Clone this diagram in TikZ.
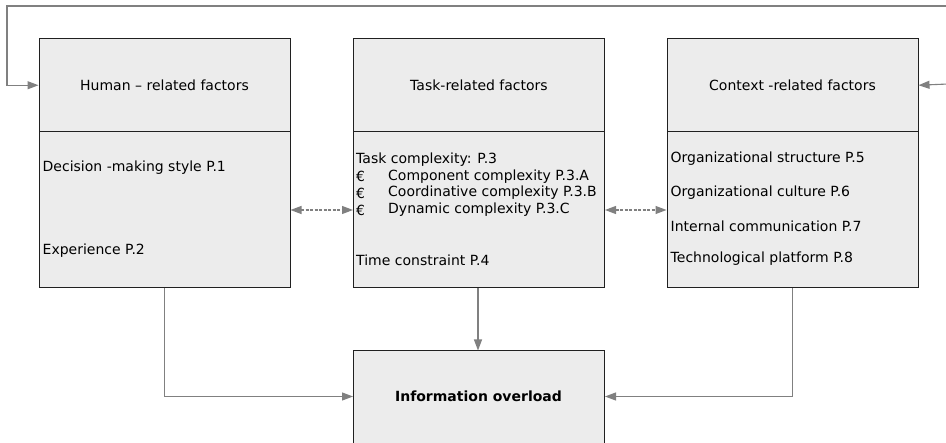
\documentclass[tikz,border=0pt]{standalone}
\usepackage{fontspec}
\setmainfont{DejaVu Sans}
\usetikzlibrary{arrows.meta}
\definecolor{boxfill}{HTML}{ECECEC}
\definecolor{boxline}{HTML}{202020}
\definecolor{wire}{HTML}{808080}
\begin{document}
\begin{tikzpicture}[x=1pt,y=-1pt,
  box/.style={draw=boxline,fill=boxfill,line width=1pt,inner sep=0pt,
    minimum width=251pt,anchor=north west},
  head/.style={box,minimum height=93.5pt},
  body/.style={box,minimum height=156pt},
  item/.style={anchor=west,inner sep=0pt,font=\fontsize{14}{16}\selectfont},
  title/.style={inner sep=0pt,font=\fontsize{14}{16}\selectfont},
  link/.style={draw=wire,line width=1.1pt,-{Triangle[length=11pt,width=8pt]},color=wire},
  duplex/.style={link,dashed,dash pattern=on 3pt off 1.5pt,
    {Triangle[length=11pt,width=8pt]}-{Triangle[length=11pt,width=8pt]}},
]
\clip (0,0) rectangle (946,443);
\fill[white] (0,0) rectangle (946,443);

% three factor groups: heading panel above a content panel
\node[head] (humH) at (38.5,38) {};
\node[body] (humB) at (38.5,131.5) {};
\node[head] (taskH) at (353,38) {};
\node[body] (taskB) at (353,131.5) {};
\node[head] (ctxH) at (666.5,38) {};
\node[body] (ctxB) at (666.5,131.5) {};

\node[title] (humT) at (humH.center) {Human – related factors};
\node[title] (taskT) at (taskH.center) {Task-related factors};
\node[title] (ctxT) at (ctxH.center) {Context -related factors};

% human-related items
\node[item] (h1) at (42.5,168) {Decision -making style P.1};
\node[item] (h2) at (42.5,251) {Experience P.2};

% task-related items
\node[item] (t1) at (356,160) {Task complexity: P.3};
\node[item] (e1) at (356,176.5) {€};
\node[item] (t2) at (388,176.5) {Component complexity P.3.A};
\node[item] (e2) at (356,193) {€};
\node[item] (t3) at (388,193) {Coordinative complexity P.3.B};
\node[item] (e3) at (356,210) {€};
\node[item] (t4) at (388,210) {Dynamic complexity P.3.C};
\node[item] (t5) at (356,260) {Time constraint P.4};

% context-related items
\node[item] (c1) at (670.5,159) {Organizational structure P.5};
\node[item] (c2) at (670.5,192.5) {Organizational culture P.6};
\node[item] (c3) at (670.5,226) {Internal communication P.7};
\node[item] (c4) at (670.5,258.5) {Technological platform P.8};

% outcome
\node[box,minimum height=110pt] (over) at (353,350.5) {};
\node[title,font=\fontsize{14}{16}\selectfont\bfseries] (overT) at (478.5,396) {Information overload};

% feedback loop along the top
\coordinate (loopL) at (7,6);
\coordinate (loopR) at (960,6);
\coordinate (inR) at (960,83.5);
\draw[link] (loopR) -- (loopL) |- (humH.west);
\draw[link] (inR) -- (ctxH.east);

% mutual influence between groups
\draw[duplex] (humB.east |- 0,210) -- (taskB.west |- 0,210);
\draw[duplex] (taskB.east |- 0,210) -- (ctxB.west |- 0,210);

% paths into the outcome
\draw[link] (humB.south -| 164.5,0) |- (over.west |- 0,396.5);
\draw[link] (taskB.south -| 478,0) -- (over.north -| 478,0);
\draw[link] (ctxB.south -| 792.5,0) |- (over.east |- 0,396.5);
\end{tikzpicture}
\end{document}
